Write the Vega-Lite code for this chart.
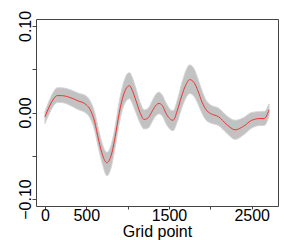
{
  "$schema": "https://vega.github.io/schema/vega-lite/v6.json",
  "width": 242,
  "height": 187,
  "autosize": "none",
  "padding": {"left": 36, "top": 19, "right": 11, "bottom": 34},
  "background": "white",
  "config": {
    "view": {"stroke": "#444", "strokeWidth": 1},
    "font": "Liberation Sans"
  },
  "data": {
    "values": [
      {"g": 1, "m": -0.005, "lo": -0.013, "hi": 0.001},
      {"g": 50, "m": 0.006, "lo": -0.002, "hi": 0.013},
      {"g": 100, "m": 0.015, "lo": 0.007, "hi": 0.023},
      {"g": 150, "m": 0.0195, "lo": 0.0115, "hi": 0.0285},
      {"g": 200, "m": 0.0195, "lo": 0.0115, "hi": 0.0285},
      {"g": 300, "m": 0.0175, "lo": 0.0085, "hi": 0.0265},
      {"g": 400, "m": 0.0135, "lo": 0.0035, "hi": 0.0225},
      {"g": 500, "m": 0.009, "lo": -0.001, "hi": 0.019},
      {"g": 550, "m": 0.003, "lo": -0.007, "hi": 0.013},
      {"g": 600, "m": -0.010, "lo": -0.020, "hi": 0.001},
      {"g": 650, "m": -0.032, "lo": -0.042, "hi": -0.020},
      {"g": 700, "m": -0.050, "lo": -0.061, "hi": -0.038},
      {"g": 750, "m": -0.058, "lo": -0.073, "hi": -0.046},
      {"g": 800, "m": -0.050, "lo": -0.064, "hi": -0.038},
      {"g": 850, "m": -0.028, "lo": -0.040, "hi": -0.016},
      {"g": 900, "m": 0.000, "lo": -0.012, "hi": 0.013},
      {"g": 950, "m": 0.020, "lo": 0.007, "hi": 0.034},
      {"g": 1000, "m": 0.030, "lo": 0.015, "hi": 0.045},
      {"g": 1025, "m": 0.031, "lo": 0.016, "hi": 0.046},
      {"g": 1050, "m": 0.027, "lo": 0.012, "hi": 0.042},
      {"g": 1100, "m": 0.014, "lo": 0.000, "hi": 0.028},
      {"g": 1150, "m": 0.000, "lo": -0.012, "hi": 0.012},
      {"g": 1200, "m": -0.008, "lo": -0.019, "hi": 0.003},
      {"g": 1250, "m": -0.006, "lo": -0.018, "hi": 0.005},
      {"g": 1300, "m": 0.002, "lo": -0.010, "hi": 0.014},
      {"g": 1350, "m": 0.009, "lo": -0.003, "hi": 0.022},
      {"g": 1380, "m": 0.0105, "lo": -0.0015, "hi": 0.0235},
      {"g": 1420, "m": 0.008, "lo": -0.004, "hi": 0.020},
      {"g": 1470, "m": -0.002, "lo": -0.014, "hi": 0.010},
      {"g": 1520, "m": -0.008, "lo": -0.020, "hi": 0.003},
      {"g": 1550, "m": -0.009, "lo": -0.021, "hi": 0.002},
      {"g": 1600, "m": 0.002, "lo": -0.011, "hi": 0.014},
      {"g": 1650, "m": 0.018, "lo": 0.004, "hi": 0.032},
      {"g": 1700, "m": 0.031, "lo": 0.016, "hi": 0.047},
      {"g": 1750, "m": 0.038, "lo": 0.022, "hi": 0.055},
      {"g": 1800, "m": 0.035, "lo": 0.019, "hi": 0.051},
      {"g": 1850, "m": 0.025, "lo": 0.010, "hi": 0.039},
      {"g": 1900, "m": 0.012, "lo": -0.001, "hi": 0.025},
      {"g": 1950, "m": 0.003, "lo": -0.009, "hi": 0.014},
      {"g": 2000, "m": -0.001, "lo": -0.012, "hi": 0.009},
      {"g": 2100, "m": -0.005, "lo": -0.015, "hi": 0.005},
      {"g": 2200, "m": -0.014, "lo": -0.024, "hi": -0.004},
      {"g": 2300, "m": -0.020, "lo": -0.031, "hi": -0.009},
      {"g": 2400, "m": -0.016, "lo": -0.026, "hi": -0.006},
      {"g": 2500, "m": -0.009, "lo": -0.018, "hi": 0.000},
      {"g": 2600, "m": -0.007, "lo": -0.015, "hi": 0.001},
      {"g": 2650, "m": -0.007, "lo": -0.015, "hi": 0.001},
      {"g": 2710, "m": 0.003, "lo": -0.004, "hi": 0.010}
    ]
  },
  "encoding": {
    "x": {
      "field": "g", "type": "quantitative",
      "scale": {"domain": [-107, 2818], "nice": false, "zero": false},
      "axis": {
        "title": "Grid point",
        "values": [0, 500, 1000, 1500, 2000, 2500],
        "labelExpr": "datum.value == 1000 || datum.value == 2000 ? '' : datum.label",
        "format": "d",
        "grid": false, "domain": false,
        "tickColor": "#444", "tickSize": 3, "labelPadding": -2,
        "labelFontSize": 16, "labelColor": "black", "labelFont": "Liberation Sans",
        "titleFontSize": 16, "titleFontWeight": "normal", "titleColor": "black",
        "titleFont": "Liberation Sans", "titlePadding": 0,
        "labelFlush": false, "labelOverlap": false
      }
    }
  },
  "layer": [
    {
      "mark": {"type": "area", "color": "#c2c2c2", "interpolate": "monotone", "stroke": "#d4d4d4", "strokeWidth": 1},
      "encoding": {
        "y": {"field": "lo", "type": "quantitative",
          "scale": {"domain": [-0.108, 0.108], "nice": false, "zero": false},
          "axis": {
            "title": null,
            "values": [-0.1, -0.05, 0, 0.05, 0.1],
            "labelExpr": "abs(datum.value) == 0.05 ? '' : format(datum.value, '.2f')",
            "grid": false, "domain": false,
            "tickColor": "#444", "tickSize": 4, "labelPadding": 2,
            "labelAngle": -90, "labelAlign": "center", "labelBaseline": "alphabetic",
            "labelFontSize": 16, "labelColor": "black", "labelFont": "Liberation Sans",
            "labelFlush": false, "labelOverlap": false
          }
        },
        "y2": {"field": "hi"}
      }
    },
    {
      "mark": {"type": "line", "color": "#ee3333", "strokeWidth": 1, "interpolate": "monotone"},
      "encoding": {"y": {"field": "m", "type": "quantitative"}}
    }
  ]
}
